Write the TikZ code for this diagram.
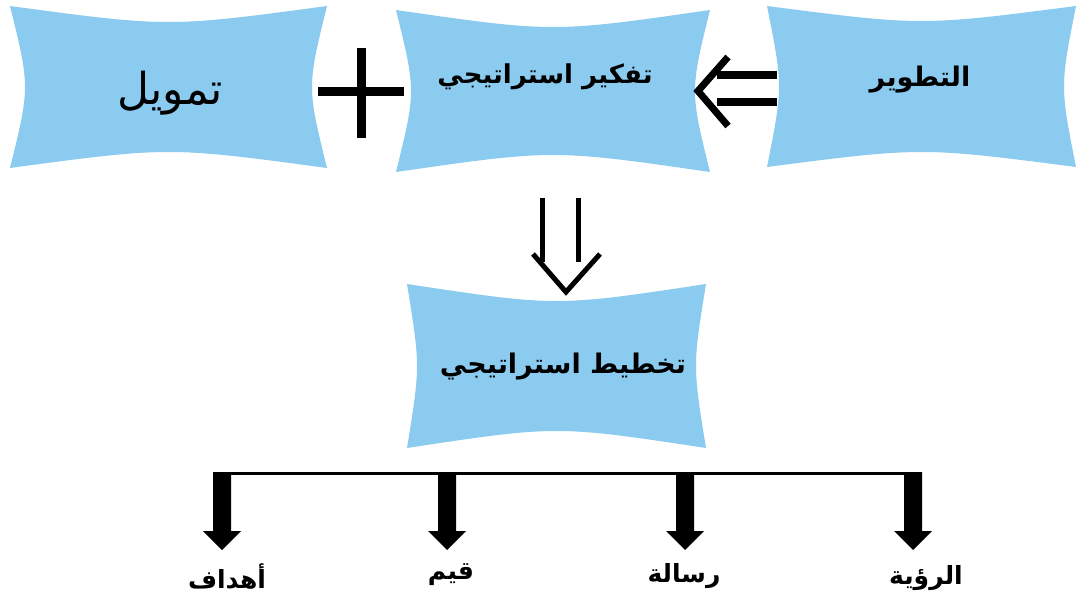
\documentclass[tikz,border=0pt]{standalone}
\usepackage{fontspec}
\TeXXeTstate=1
\newfontfamily\arabicfont[Script=Arabic]{DejaVu Sans}
\usetikzlibrary{calc}
\definecolor{boxblue}{RGB}{140,203,240}
\tikzset{
  boxfill/.style={fill=boxblue},
  lbl/.style={font=\arabicfont\bfseries\fontsize{26}{30}\selectfont, inner sep=0pt},
  lblbig/.style={font=\arabicfont\bfseries\fontsize{27}{31}\selectfont, inner sep=0pt},
  lblreg/.style={font=\arabicfont\fontsize{44}{48}\selectfont, inner sep=0pt},
  sublbl/.style={font=\arabicfont\bfseries\fontsize{25}{29}\selectfont, inner sep=0pt},
  sym/.style={line width=9pt, black},
  thinsym/.style={line width=5pt, black, line join=miter},
  branch/.style={line width=3pt, black},
  bigarrow/.style={fill=black},
}
\newcommand\bowshape[6]{%
  \pgfmathsetmacro\xm{(#1+#3)/2}\pgfmathsetmacro\ym{(#2+#4)/2}%
  \pgfmathsetmacro\kt{#2+#5*4/3}\pgfmathsetmacro\kb{#4-#5*4/3}%
  \pgfmathsetmacro\kl{#1+#6*4/3}\pgfmathsetmacro\kr{#3-#6*4/3}%
  \fill[boxfill] (#1,#2) .. controls (\xm,\kt) .. (#3,#2)
    .. controls (\kr,\ym) .. (#3,#4)
    .. controls (\xm,\kb) .. (#1,#4)
    .. controls (\kl,\ym) .. (#1,#2) -- cycle;}
\newcommand\downarrowat[1]{%
  \fill[bigarrow] ($(#1)+(-9,0)$) -- ($(#1)+(9,0)$) -- ($(#1)+(9,59)$) -- ($(#1)+(19,59)$)
    -- ($(#1)+(0,78)$) -- ($(#1)+(-19,59)$) -- ($(#1)+(-9,59)$) -- cycle;}
\begin{document}
\begin{tikzpicture}[x=1pt,y=-1pt]
\useasboundingbox (0,0) rectangle (1078,604);
% boxes
\bowshape{10}{6}{327}{168}{16}{15}
\bowshape{396}{10}{710}{172}{17}{15}
\bowshape{767}{6}{1076}{167}{15}{12}
\bowshape{407}{284}{706}{448}{17}{10}
% labels
\node[lblreg] (fund) at (170,93) {\beginR تمويل\endR};
\node[lbl] (think) at (545,77) {\beginR تفكير استراتيجي\endR};
\node[lblbig] (dev) at (920,80) {\beginR التطوير\endR};
\node[lblbig] (plan) at (563,367) {\beginR تخطيط استراتيجي\endR};
% plus sign
\coordinate (plusc) at (361,92);
\draw[sym] ($(plusc)+(-43,0)$) -- ($(plusc)+(43,0)$);
\draw[sym] ($(plusc)+(0,-44)$) -- ($(plusc)+(0,46)$);
% left double arrow from dev to think
\coordinate (la) at (698,91);
\draw[sym, line width=8pt] (717,75) -- (777,75);
\draw[sym, line width=8pt] (717,102) -- (777,102);
\draw[sym, line width=7pt, line join=miter] (728,57) -- (la) -- (728,126);
% down double arrow from think to plan
\coordinate (da) at (566,292);
\draw[thinsym] (542,198) -- (542,262);
\draw[thinsym] (578,198) -- (578,262);
\draw[thinsym] (533,254) -- (da) -- (600,254);
% branch line
\coordinate (bl) at (213,473);
\coordinate (br) at (921,473);
\draw[branch] (bl) -- (br);
\coordinate (a1) at (222,472);
\coordinate (a2) at (447,472);
\coordinate (a3) at (685,472);
\coordinate (a4) at (913,472);
\downarrowat{a1}\downarrowat{a2}\downarrowat{a3}\downarrowat{a4}
\node[sublbl] (goals) at (227,576) {\beginR أهداف\endR};
\node[sublbl] (values) at (451,575) {\beginR قيم\endR};
\node[sublbl] (msg) at (684,576) {\beginR رسالة\endR};
\node[sublbl] (vision) at (926,578) {\beginR الرؤية\endR};
\end{tikzpicture}
\end{document}
